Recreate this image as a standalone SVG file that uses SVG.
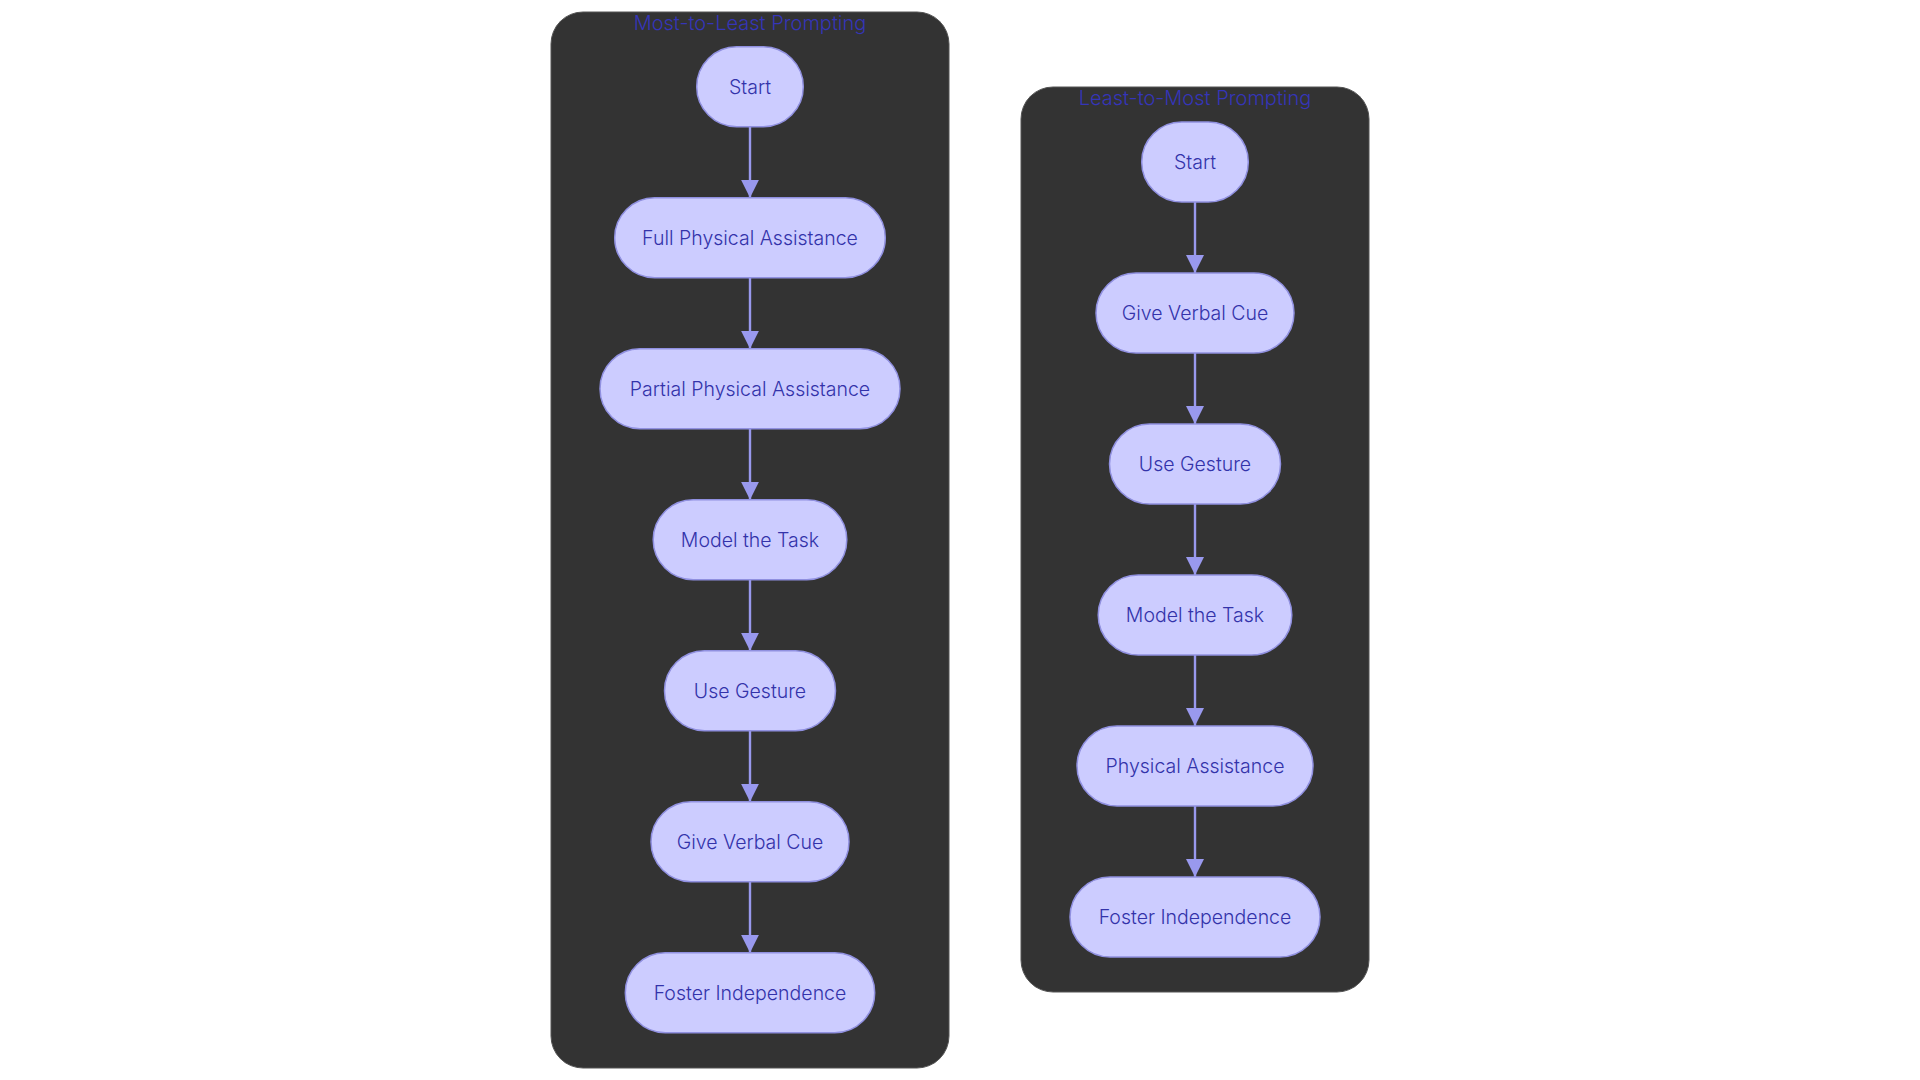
<svg xmlns="http://www.w3.org/2000/svg" width="1920" height="1080" viewBox="0 0 1920 1080">
<defs>
<style>
.cluster{fill:#333333;stroke:#555555;stroke-width:1}
.ctitle{font-family:Inter,"Noto Sans",sans-serif;font-size:20px;font-weight:300;fill:#3535b8;text-anchor:middle}
.node rect{fill:#ccccff;stroke:#9090e0;stroke-width:1.5}
.node text{font-family:Inter,"Noto Sans",sans-serif;font-size:19.5px;font-weight:300;fill:#3333aa;text-anchor:middle}
.edge{stroke:#9999ee;stroke-width:2.4;fill:none}
</style>
<marker id="arr" markerUnits="userSpaceOnUse" viewBox="0 0 18 18" refX="18" refY="9" markerWidth="18" markerHeight="18" orient="auto">
<path d="M0,0 L18,9 L0,18 z" fill="#9999ee"/>
</marker>
</defs>
<rect width="1920" height="1080" fill="#ffffff"/>
<g id="cluster-most">
<rect class="cluster" x="551" y="12" width="398" height="1056" rx="32" ry="32"/>
<text class="ctitle" x="750" y="30">Most-to-Least Prompting</text>
</g>
<g id="cluster-least">
<rect class="cluster" x="1021" y="87" width="348" height="905" rx="32" ry="32"/>
<text class="ctitle" x="1195" y="105">Least-to-Most Prompting</text>
</g>
<g id="edges">
<line class="edge" x1="750" y1="126.7" x2="750" y2="197.7" marker-end="url(#arr)"/>
<line class="edge" x1="750" y1="277.7" x2="750" y2="348.7" marker-end="url(#arr)"/>
<line class="edge" x1="750" y1="428.7" x2="750" y2="499.7" marker-end="url(#arr)"/>
<line class="edge" x1="750" y1="579.7" x2="750" y2="650.7" marker-end="url(#arr)"/>
<line class="edge" x1="750" y1="730.7" x2="750" y2="801.7" marker-end="url(#arr)"/>
<line class="edge" x1="750" y1="881.7" x2="750" y2="952.7" marker-end="url(#arr)"/>
<line class="edge" x1="1195" y1="202" x2="1195" y2="273" marker-end="url(#arr)"/>
<line class="edge" x1="1195" y1="353" x2="1195" y2="424" marker-end="url(#arr)"/>
<line class="edge" x1="1195" y1="504" x2="1195" y2="575" marker-end="url(#arr)"/>
<line class="edge" x1="1195" y1="655" x2="1195" y2="726" marker-end="url(#arr)"/>
<line class="edge" x1="1195" y1="806" x2="1195" y2="877" marker-end="url(#arr)"/>
</g>
<g id="m-start" class="node"><rect x="696.7" y="46.7" width="106.6" height="80" rx="40" ry="40"/><text x="750" y="93.7">Start</text></g>
<g id="m-full" class="node"><rect x="614.7" y="197.7" width="270.6" height="80" rx="40" ry="40"/><text x="750" y="244.7">Full Physical Assistance</text></g>
<g id="m-partial" class="node"><rect x="600" y="348.7" width="300" height="80" rx="40" ry="40"/><text x="750" y="395.7">Partial Physical Assistance</text></g>
<g id="m-model" class="node"><rect x="653.2" y="499.7" width="193.6" height="80" rx="40" ry="40"/><text x="750" y="546.7">Model the Task</text></g>
<g id="m-gesture" class="node"><rect x="664.5" y="650.7" width="171" height="80" rx="40" ry="40"/><text x="750" y="697.7">Use Gesture</text></g>
<g id="m-verbal" class="node"><rect x="651" y="801.7" width="198" height="80" rx="40" ry="40"/><text x="750" y="848.7">Give Verbal Cue</text></g>
<g id="m-foster" class="node"><rect x="625.3" y="952.7" width="249.4" height="80" rx="40" ry="40"/><text x="750" y="999.7">Foster Independence</text></g>
<g id="l-start" class="node"><rect x="1141.7" y="122" width="106.6" height="80" rx="40" ry="40"/><text x="1195" y="169">Start</text></g>
<g id="l-verbal" class="node"><rect x="1096" y="273" width="198" height="80" rx="40" ry="40"/><text x="1195" y="320">Give Verbal Cue</text></g>
<g id="l-gesture" class="node"><rect x="1109.5" y="424" width="171" height="80" rx="40" ry="40"/><text x="1195" y="471">Use Gesture</text></g>
<g id="l-model" class="node"><rect x="1098.2" y="575" width="193.6" height="80" rx="40" ry="40"/><text x="1195" y="622">Model the Task</text></g>
<g id="l-physical" class="node"><rect x="1077" y="726" width="236" height="80" rx="40" ry="40"/><text x="1195" y="773">Physical Assistance</text></g>
<g id="l-foster" class="node"><rect x="1070" y="877" width="250" height="80" rx="40" ry="40"/><text x="1195" y="924">Foster Independence</text></g>
</svg>
